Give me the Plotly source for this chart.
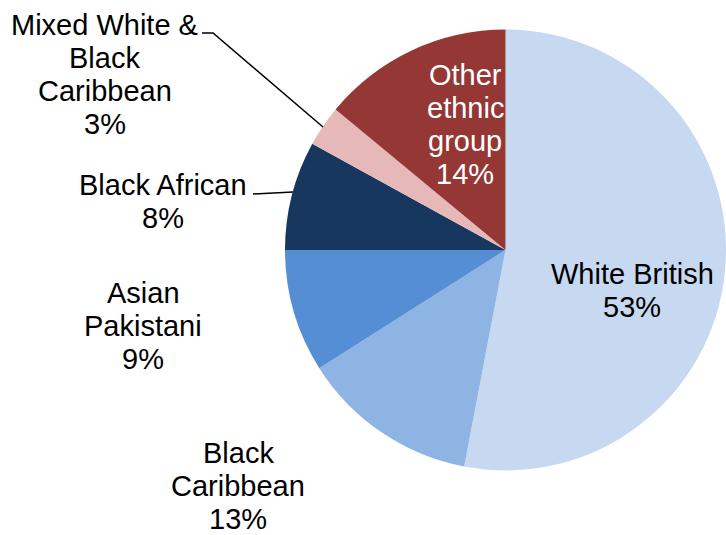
import plotly.graph_objects as go

# Ethnic composition, clockwise from 12 o'clock
groups = ["White British", "Black Caribbean", "Asian Pakistani",
          "Black African", "Mixed White & Black Caribbean", "Other ethnic group"]
shares = [53, 13, 9, 8, 3, 14]
colors = ["#C6D9F1", "#8EB4E3", "#558ED5", "#17375E", "#E6B9B8", "#953735"]

# How each group's name is wrapped in its label
name_lines = {
    "White British": ["White British"],
    "Black Caribbean": ["Black", "Caribbean"],
    "Asian Pakistani": ["Asian", "Pakistani"],
    "Black African": ["Black African"],
    "Mixed White & Black Caribbean": ["Mixed White &", "Black", "Caribbean"],
    "Other ethnic group": ["Other", "ethnic", "group"],
}

W, H = 726, 535
FONT = "Arial, Liberation Sans, sans-serif"
SIZE = 29
LINE_GAP = 33

# Label placement: (centre x, first baseline y) in pixels, text colour
label_pos = {
    "White British": (632, 284, "black"),
    "Black Caribbean": (238, 463, "black"),
    "Asian Pakistani": (143, 303, "black"),
    "Black African": (163, 195, "black"),
    "Mixed White & Black Caribbean": (105, 35, "black"),
    "Other ethnic group": (465, 85, "white"),
}

# Leader lines in pixel coordinates
leaders = [
    [(202, 33), (213, 33), (323, 127)],
    [(253, 194), (293, 192)],
]


def px(x, y):
    return x / W, 1 - y / H


total = sum(shares)
fig = go.Figure(go.Pie(
    labels=groups,
    values=shares,
    sort=False,
    direction="clockwise",
    rotation=0,
    marker=dict(colors=colors, line=dict(width=0)),
    textinfo="none",
    hoverinfo="label+percent",
    domain=dict(x=[285 / W, 1.0], y=[(H - 471) / H, (H - 29) / H]),
    showlegend=False,
))

annotations = []
for g, v in zip(groups, shares):
    cx, base, col = label_pos[g]
    lines = name_lines[g] + [f"{round(v / total * 100)}%"]
    for i, line in enumerate(lines):
        xx, yy = px(cx, base + i * LINE_GAP - 10)
        annotations.append(dict(
            x=xx, y=yy, xref="paper", yref="paper",
            text=line, showarrow=False,
            xanchor="center", yanchor="middle",
            font=dict(family=FONT, size=SIZE, color=col),
        ))

shapes = []
for pts in leaders:
    path = " ".join(("M" if i == 0 else "L") + f" {px(x, y)[0]:.5f},{px(x, y)[1]:.5f}"
                    for i, (x, y) in enumerate(pts))
    shapes.append(dict(type="path", xref="paper", yref="paper", path=path,
                       line=dict(color="black", width=1.5)))

fig.update_layout(
    width=W, height=H,
    margin=dict(l=0, r=0, t=0, b=0),
    paper_bgcolor="white",
    plot_bgcolor="white",
    annotations=annotations,
    shapes=shapes,
)

fig.write_html("out.html")
